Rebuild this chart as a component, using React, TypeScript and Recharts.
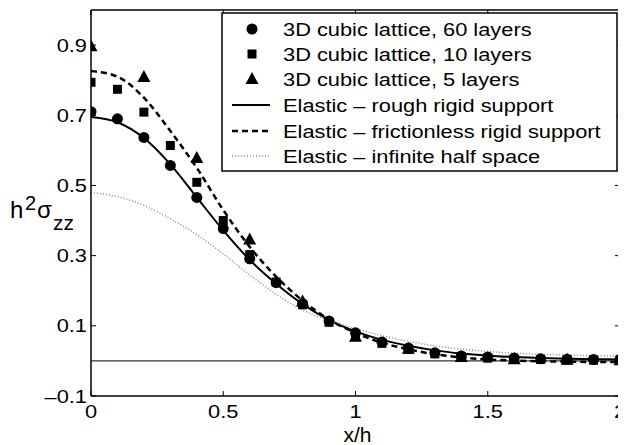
import { ComposedChart, Line, Scatter, XAxis, YAxis, ReferenceLine } from "recharts";

// x/h sample positions
const xs = [0, 0.1, 0.2, 0.3, 0.4, 0.5, 0.6, 0.7, 0.8, 0.9, 1, 1.1, 1.2, 1.3, 1.4, 1.5, 1.6, 1.7, 1.8, 1.9, 2];
const xs5 = [0, 0.2, 0.4, 0.6, 0.8, 1, 1.2, 1.4, 1.6, 1.8, 2];

// lattice simulations
const lattice60 = [0.71, 0.69, 0.637, 0.557, 0.466, 0.377, 0.291, 0.223, 0.163, 0.114, 0.08, 0.054, 0.037, 0.023, 0.014, 0.011, 0.008, 0.006, 0.005, 0.004, 0.004];
const lattice10 = [0.794, 0.774, 0.709, 0.614, 0.509, 0.4, 0.303, 0.225, 0.16, 0.11, 0.076, 0.05, 0.033, 0.02, 0.012, 0.008, 0.005, 0.004, 0.003, 0.002, 0.002];
const lattice5 = [0.897, 0.809, 0.578, 0.346, 0.169, 0.069, 0.035, 0.011, 0.005, 0.003, 0.002];

// elastic solutions
const roughSupport = [0.695, 0.68, 0.635, 0.56, 0.466, 0.372, 0.288, 0.22, 0.162, 0.117, 0.084, 0.06, 0.043, 0.03, 0.021, 0.015, 0.011, 0.008, 0.006, 0.005, 0.004];
const frictionlessSupport = [0.826, 0.81, 0.75, 0.655, 0.55, 0.43, 0.325, 0.24, 0.172, 0.118, 0.08, 0.052, 0.033, 0.019, 0.01, 0.004, 0.001, -0.001, -0.002, -0.003, -0.003];
const halfSpace = [0.48, 0.468, 0.443, 0.405, 0.36, 0.305, 0.245, 0.19, 0.145, 0.115, 0.092, 0.072, 0.056, 0.043, 0.034, 0.027, 0.022, 0.019, 0.017, 0.015, 0.014];

const xTicks = [0, 0.5, 1, 1.5, 2];
const yTicks = [-0.1, 0.1, 0.3, 0.5, 0.7, 0.9];

const legendLabels = [
  "3D cubic lattice, 60 layers",
  "3D cubic lattice, 10 layers",
  "3D cubic lattice, 5 layers",
  "Elastic \u2013 rough rigid support",
  "Elastic \u2013 frictionless rigid support",
  "Elastic \u2013 infinite half space",
];

const rows = xs.map((x, i) => ({
  x,
  rough: roughSupport[i],
  frictionless: frictionlessSupport[i],
  half: halfSpace[i],
}));
const pts60 = xs.map((x, i) => ({ x, y: lattice60[i] }));
const pts10 = xs.map((x, i) => ({ x, y: lattice10[i] }));
const pts5 = xs5.map((x, i) => ({ x, y: lattice5[i] }));

const FONT = "'Liberation Sans', Arial, Helvetica, sans-serif";
const TICK = 5;
const STRETCH = 1.18;
const DASH = "6 4";
const DOT = "1 2";
const GREY = "#8c8c8c";

const fmt = (v: number) => (v < 0 ? "\u2013" + String(-v) : String(v));

const WideText = ({ x, y, anchor, size = 18.5, children }: any) => (
  <text
    transform={`translate(${x},${y}) scale(${STRETCH},1)`}
    textAnchor={anchor}
    fontFamily={FONT}
    fontSize={size}
    fill="#000"
  >
    {children}
  </text>
);

const BottomTick = ({ x, y, payload }: any) => (
  <g>
    <line x1={x} y1={y} x2={x} y2={y - TICK} stroke="#000" />
    <WideText x={x} y={y + 22} anchor="middle">{fmt(payload.value)}</WideText>
  </g>
);
const TopTick = ({ x, y }: any) => <line x1={x} y1={y} x2={x} y2={y + TICK} stroke="#000" />;
const LeftTick = ({ x, y, payload }: any) => (
  <g>
    <line x1={x} y1={y} x2={x + TICK} y2={y} stroke="#000" />
    <WideText x={x - 4} y={y + 6.5} anchor="end">{fmt(payload.value)}</WideText>
  </g>
);
const RightTick = ({ x, y }: any) => <line x1={x} y1={y} x2={x - TICK} y2={y} stroke="#000" />;

const YLabel = () => (
  <g fontFamily={FONT} fill="#000" fontStyle="normal">
    <text x={2} y={210} fontSize={24}>h</text>
    <text x={17} y={202} fontSize={20}>2</text>
    <text x={29} y={210} fontSize={24}>σ</text>
    <text x={45} y={222} fontSize={21}>zz</text>
  </g>
);
const XLabel = ({ viewBox }: any) => (
  <text
    x={viewBox.x + viewBox.width / 2 + 2}
    y={viewBox.y + 46}
    textAnchor="middle"
    fontFamily={FONT}
    fontSize={21}
    fill="#000"
  >
    x/h
  </text>
);

const Dot = (p: any) => <circle cx={p.cx} cy={p.cy} r={5.5} fill="#000" />;
const Square = (p: any) => <rect x={p.cx - 4.5} y={p.cy - 4.5} width={9} height={9} fill="#000" />;
const Tri = (p: any) => (
  <polygon points={`${p.cx},${p.cy - 7} ${p.cx - 6.5},${p.cy + 5} ${p.cx + 6.5},${p.cy + 5}`} fill="#000" />
);

function LegendBox() {
  const rowY = [17, 42, 67, 93, 119, 144];
  const mx = 31;
  return (
    <svg
      width={398}
      height={161}
      style={{ position: "absolute", left: 213, top: 4 }}
    >
      <rect x={1} y={1} width={395} height={158} fill="#fff" stroke="#000" strokeWidth={1.5} />
      <circle cx={mx} cy={rowY[0]} r={5.5} fill="#000" />
      <rect x={mx - 4.5} y={rowY[1] - 4.5} width={9} height={9} fill="#000" />
      <polygon points={`${mx},${rowY[2] - 7} ${mx - 6.5},${rowY[2] + 5} ${mx + 6.5},${rowY[2] + 5}`} fill="#000" />
      <line x1={11} x2={49} y1={rowY[3]} y2={rowY[3]} stroke="#000" strokeWidth={2} />
      <line x1={11} x2={49} y1={rowY[4]} y2={rowY[4]} stroke="#000" strokeWidth={2.5} strokeDasharray={DASH} />
      <line x1={11} x2={49} y1={rowY[5]} y2={rowY[5]} stroke={GREY} strokeWidth={1.5} strokeDasharray={DOT} />
      {legendLabels.map((t, i) => (
        <WideText key={t} x={62} y={rowY[i] + 6.5} anchor="start">{t}</WideText>
      ))}
    </svg>
  );
}

export default function App() {
  return (
    <div style={{ position: "relative", width: 618, height: 437 }}>
      <ComposedChart
        width={618}
        height={437}
        data={rows}
        margin={{ top: 1, right: 5, bottom: 0, left: 0 }}
        style={{ overflow: "visible" }}
      >
        <XAxis
          dataKey="x"
          type="number"
          domain={[0, 2]}
          ticks={xTicks}
          interval={0}
          height={49}
          tickSize={0}
          tickMargin={0}
          tick={<BottomTick />}
          axisLine={{ stroke: "#000", strokeWidth: 1.5 }}
          label={<XLabel />}
          allowDataOverflow
        />
        <XAxis
          xAxisId="top"
          dataKey="x"
          orientation="top"
          type="number"
          domain={[0, 2]}
          ticks={xTicks}
          interval={0}
          height={1}
          tickSize={0}
          tickMargin={0}
          tick={<TopTick />}
          axisLine={{ stroke: "#000", strokeWidth: 1.5 }}
          allowDataOverflow
        />
        <YAxis
          type="number"
          domain={[-0.1, 1]}
          ticks={yTicks}
          interval={0}
          width={83}
          tickSize={0}
          tickMargin={0}
          tick={<LeftTick />}
          axisLine={{ stroke: "#000", strokeWidth: 1.5 }}
          label={<YLabel />}
          allowDataOverflow
        />
        <YAxis
          yAxisId="right"
          orientation="right"
          type="number"
          domain={[-0.1, 1]}
          ticks={yTicks}
          interval={0}
          width={1}
          tickSize={0}
          tickMargin={0}
          tick={<RightTick />}
          axisLine={{ stroke: "#000", strokeWidth: 1.5 }}
          allowDataOverflow
        />
        <ReferenceLine y={0} stroke="#000" strokeWidth={1} />

        <Scatter data={pts60} dataKey="y" shape={Dot} isAnimationActive={false} />
        <Scatter data={pts10} dataKey="y" shape={Square} isAnimationActive={false} />
        <Scatter data={pts5} dataKey="y" shape={Tri} isAnimationActive={false} />

        <Line type="monotone" dataKey="rough" stroke="#000" strokeWidth={2} dot={false} activeDot={false} isAnimationActive={false} />
        <Line type="monotone" dataKey="frictionless" stroke="#000" strokeWidth={2.5} strokeDasharray={DASH} dot={false} activeDot={false} isAnimationActive={false} />
        <Line type="monotone" dataKey="half" stroke={GREY} strokeWidth={1.5} strokeDasharray={DOT} dot={false} activeDot={false} isAnimationActive={false} />
        {/* invisible series so the top/right frame axes get drawn */}
        <Line
          xAxisId="top"
          yAxisId="right"
          dataKey="rough"
          stroke="none"
          dot={false}
          activeDot={false}
          legendType="none"
          isAnimationActive={false}
        />
      </ComposedChart>
      <LegendBox />
    </div>
  );
}
